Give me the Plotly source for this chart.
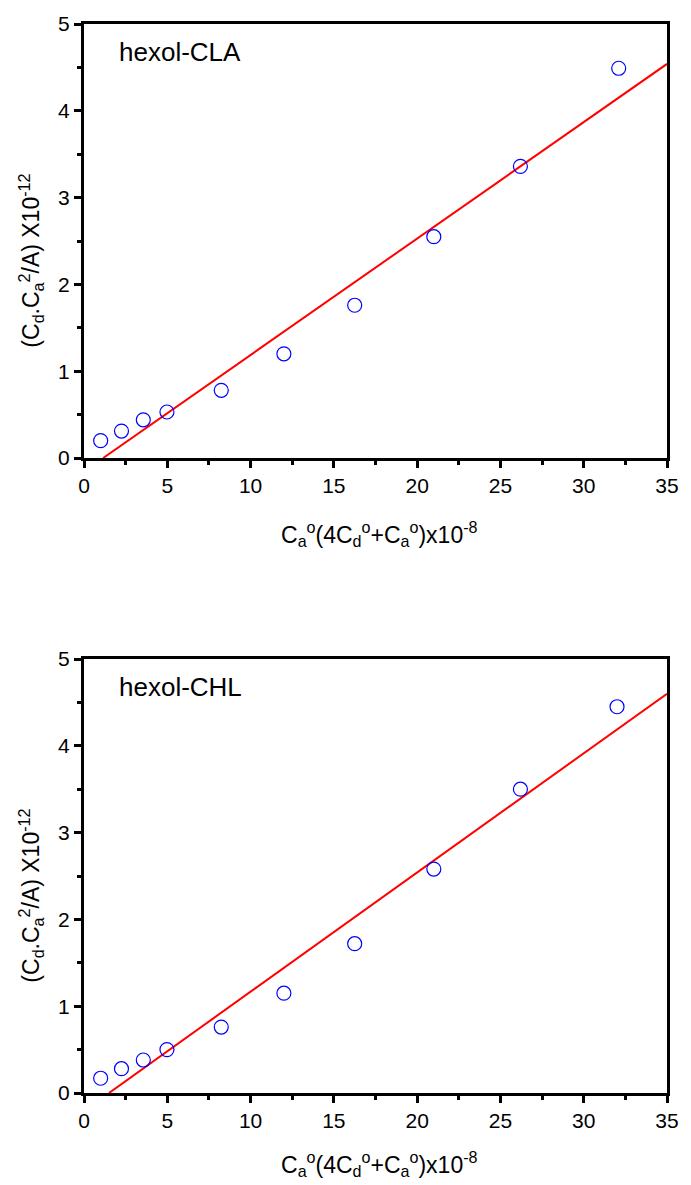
import plotly.graph_objects as go
from plotly.subplots import make_subplots

# ---- data ----
cla_x = [1.0, 2.25, 3.56, 4.98, 8.24, 12.0, 16.25, 21.0, 26.2, 32.1]
cla_y = [0.20, 0.31, 0.44, 0.53, 0.78, 1.20, 1.76, 2.55, 3.36, 4.49]
cla_fit_x = [1.15, 35.0]
cla_fit_y = [0.0, 4.54]

chl_x = [1.0, 2.25, 3.56, 4.98, 8.24, 12.0, 16.25, 21.0, 26.2, 32.0]
chl_y = [0.17, 0.28, 0.38, 0.50, 0.76, 1.15, 1.72, 2.58, 3.50, 4.45]
chl_fit_x = [1.5, 35.0]
chl_fit_y = [0.0, 4.60]

panel_labels = ["hexol-CLA", "hexol-CHL"]
x_ticks = [0, 5, 10, 15, 20, 25, 30, 35]
y_ticks = [0, 1, 2, 3, 4, 5]

FONT = "Liberation Sans, Arial, sans-serif"

fig = make_subplots(rows=2, cols=1, vertical_spacing=0.188)

for i, (xs, ys, fx, fy) in enumerate([(cla_x, cla_y, cla_fit_x, cla_fit_y),
                                       (chl_x, chl_y, chl_fit_x, chl_fit_y)]):
    r = i + 1
    fig.add_trace(go.Scatter(x=fx, y=fy, mode="lines",
                             line=dict(color="#ff0000", width=2),
                             showlegend=False, cliponaxis=False), row=r, col=1)
    fig.add_trace(go.Scatter(x=xs, y=ys, mode="markers",
                             marker=dict(symbol="circle-open", size=14,
                                         color="#0000ff", line=dict(width=1.2, color="#0000ff")),
                             showlegend=False, cliponaxis=False), row=r, col=1)

# domains (pixel layout)
H = 1185
mt, mb = 24, 92
ph = H - mt - mb
def py(p):
    return (H - mb - p) / ph

fig.update_layout(
    width=691, height=1185,
    margin=dict(l=84, r=17, t=mt, b=mb),
    paper_bgcolor="white", plot_bgcolor="white",
    font=dict(family=FONT, size=21, color="black"),
)
fig.update_layout(yaxis=dict(domain=[py(458), 1.0]),
                  yaxis2=dict(domain=[0.0, py(659)]))

axis_common = dict(showline=True, linecolor="black", linewidth=3, mirror=True,
                   ticks="outside", ticklen=7, tickwidth=2.5, tickcolor="black",
                   showgrid=False, zeroline=False,
                   tickfont=dict(family=FONT, size=21, color="black"))

for r in (1, 2):
    fig.update_xaxes(range=[0, 35], tickvals=x_ticks, ticktext=[str(v) for v in x_ticks],
                     minor=dict(ticks="outside", ticklen=4, tickwidth=2.5, dtick=2.5,
                                tick0=0, tickcolor="black", showgrid=False),
                     **axis_common, row=r, col=1)
    fig.update_yaxes(range=[0, 5], tickvals=y_ticks, ticktext=[str(v) for v in y_ticks],
                     minor=dict(ticks="outside", ticklen=4, tickwidth=2.5, dtick=0.5,
                                tick0=0, tickcolor="black", showgrid=False),
                     **axis_common, row=r, col=1)

xtitle = "C<sub>a</sub><sup>o</sup>(4C<sub>d</sub><sup>o</sup>+C<sub>a</sub><sup>o</sup>)x10<sup>-8</sup>"
ytitle = "(C<sub>d</sub>.C<sub>a</sub><sup>2</sup>/A) X10<sup>-12</sup>"

ann = []
W = 691 - 84 - 17
# panel labels
for lab, ypix in zip(panel_labels, [52, 687]):
    ann.append(dict(text=lab, xref="paper", yref="paper",
                    x=(117 - 84) / W, y=py(ypix),
                    xanchor="left", yanchor="middle", showarrow=False,
                    font=dict(family=FONT, size=26, color="black")))
# x titles
for ypix in [534, 1164]:
    ann.append(dict(text=xtitle, xref="paper", yref="paper",
                    x=(383 - 84) / W, y=py(ypix),
                    xanchor="center", yanchor="middle", showarrow=False,
                    font=dict(family=FONT, size=23, color="black")))
# y titles
for ypix in [261, 896]:
    ann.append(dict(text=ytitle, xref="paper", yref="paper",
                    x=(30 - 84) / W, y=py(ypix),
                    xanchor="center", yanchor="middle", textangle=-90, showarrow=False,
                    font=dict(family=FONT, size=23, color="black")))
fig.update_layout(annotations=ann)

fig.write_html("out.html")
